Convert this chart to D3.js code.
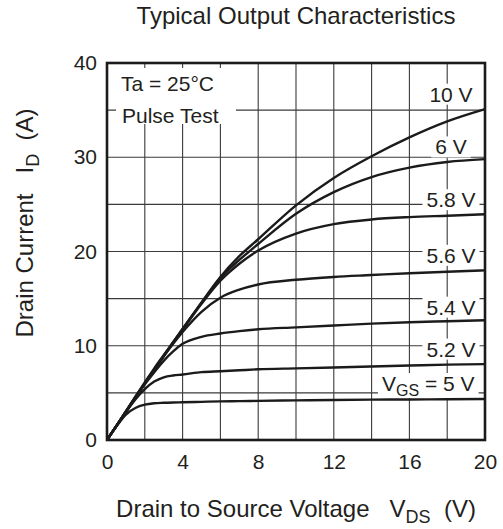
<!DOCTYPE html>
<html>
<head>
<meta charset="utf-8">
<script src="https://cdn.jsdelivr.net/npm/d3@7"></script>
<style>
  body { margin: 0; background: #fff; }
  text { font-family: "Liberation Sans", Arial, sans-serif; fill: #231f20; }
</style>
</head>
<body>
<svg id="chart" width="503" height="529"></svg>
<script>
// drain-source voltage samples (V)
const vds = [0, 0.5, 1, 1.5, 2, 2.5, 3, 3.5, 4, 5, 6, 7, 8, 10, 12, 14, 16, 18, 20];
// drain current (A) for each gate voltage
const id10V = [0, 1.5, 3.05, 4.6, 6.1, 7.6, 9.0, 10.4, 11.8, 14.6, 17.3, 19.5, 21.3, 24.9, 27.8, 30.1, 32.1, 33.8, 35.1];
const id6V = [0, 1.5, 3.0, 4.55, 6.05, 7.5, 8.95, 10.35, 11.75, 14.55, 17.2, 19.1, 20.8, 24.0, 26.3, 27.9, 28.9, 29.5, 29.8];
const id58V = [0, 1.5, 3.0, 4.5, 6.0, 7.45, 8.9, 10.3, 11.7, 14.45, 16.9, 18.7, 20.1, 21.9, 22.9, 23.4, 23.65, 23.8, 23.95];
const id56V = [0, 1.5, 3.0, 4.5, 6.0, 7.45, 8.85, 10.2, 11.45, 13.6, 15.1, 15.95, 16.5, 17.0, 17.3, 17.5, 17.7, 17.85, 18.0];
const id54V = [0, 1.5, 3.0, 4.45, 5.9, 7.2, 8.4, 9.4, 10.2, 10.95, 11.3, 11.55, 11.75, 11.95, 12.15, 12.35, 12.5, 12.6, 12.7];
const id52V = [0, 1.5, 2.95, 4.3, 5.4, 6.2, 6.65, 6.85, 6.95, 7.2, 7.3, 7.4, 7.5, 7.6, 7.7, 7.8, 7.9, 8.0, 8.05];
const id5V = [0, 1.45, 2.7, 3.4, 3.75, 3.9, 3.95, 3.98, 4.0, 4.05, 4.1, 4.12, 4.15, 4.2, 4.25, 4.28, 4.3, 4.33, 4.35];

const seriesValues = [id10V, id6V, id58V, id56V, id54V, id52V, id5V];
const seriesLabels = ['10 V', '6 V', '5.8 V', '5.6 V', '5.4 V', '5.2 V', 'VGS = 5 V'];
// where each curve label sits, in axis units
const labelVds = [18.2, 18.2, 18.2, 18.2, 18.2, 18.2, 17.0];
const labelId = [36.7, 31.1, 25.5, 19.6, 14.1, 9.65, 6.0];

const xTicks = [0, 4, 8, 12, 16, 20];
const yTicks = [0, 10, 20, 30, 40];

const svg = d3.select('#chart');
const plot = { left: 107, right: 485, top: 63, bottom: 440 };

const x = d3.scaleLinear().domain([0, 20]).range([plot.left, plot.right]);
const y = d3.scaleLinear().domain([0, 40]).range([plot.bottom, plot.top]);

// grid
const grid = svg.append('g').attr('stroke', '#3a3a3a').attr('stroke-width', 1.1);
grid.selectAll('line.v').data(d3.range(2, 20, 2)).join('line')
  .attr('x1', d => x(d)).attr('x2', d => x(d))
  .attr('y1', plot.top).attr('y2', plot.bottom);
grid.selectAll('line.h').data(d3.range(5, 40, 5)).join('line')
  .attr('y1', d => y(d)).attr('y2', d => y(d))
  .attr('x1', plot.left).attr('x2', plot.right);

// Ta / Pulse Test note
const note = svg.append('g');
note.append('rect').attr('x', 116).attr('y', 68).attr('width', 120).attr('height', 56).attr('fill', '#fff');
note.append('text').attr('x', 121).attr('y', 91).style('font-size', '21px').text('Ta = 25°C');
note.append('text').attr('x', 122).attr('y', 123).style('font-size', '21px').text('Pulse Test');

// curve labels with white boxes behind them
const labels = svg.append('g');
seriesLabels.forEach((lab, i) => {
  const g = labels.append('g');
  const t = g.append('text')
    .attr('x', x(labelVds[i]))
    .attr('y', y(labelId[i]))
    .attr('dy', '0.36em')
    .attr('text-anchor', 'middle')
    .style('font-size', '21px');
  if (lab.startsWith('VGS')) {
    t.append('tspan').text('V');
    t.append('tspan').attr('dy', 5).style('font-size', '16px').text('GS');
    t.append('tspan').attr('dy', -5).text(' = 5 V');
  } else {
    t.text(lab);
  }
  const bb = t.node().getBBox();
  g.insert('rect', 'text')
    .attr('x', bb.x - 4).attr('y', bb.y + 1)
    .attr('width', bb.width + 8).attr('height', bb.height - 2)
    .attr('fill', '#fff');
});

// curves
const line = d3.line()
  .x((d, i) => x(vds[i]))
  .y(d => y(d))
  .curve(d3.curveMonotoneX);
svg.append('g').selectAll('path').data(seriesValues).join('path')
  .attr('d', d => line(d))
  .attr('fill', 'none')
  .attr('stroke', '#1c1a1b')
  .attr('stroke-width', 2.4);

// frame
svg.append('rect')
  .attr('x', plot.left).attr('y', plot.top)
  .attr('width', plot.right - plot.left).attr('height', plot.bottom - plot.top)
  .attr('fill', 'none').attr('stroke', '#1c1a1b').attr('stroke-width', 2.6);

// axes (labels only)
const xAxis = svg.append('g')
  .attr('transform', `translate(0,${plot.bottom})`)
  .call(d3.axisBottom(x).tickValues(xTicks).tickSize(0).tickPadding(14));
const yAxis = svg.append('g')
  .attr('transform', `translate(${plot.left},0)`)
  .call(d3.axisLeft(y).tickValues(yTicks).tickSize(0).tickPadding(10));
[xAxis, yAxis].forEach(a => {
  a.select('.domain').remove();
  a.selectAll('text').attr('fill', '#231f20').style('font-size', '21px')
    .style('font-family', '"Liberation Sans", Arial, sans-serif');
});

// titles
svg.append('text')
  .attr('x', 296).attr('y', 24)
  .attr('text-anchor', 'middle')
  .style('font-size', '24px')
  .text('Typical Output Characteristics');

const xt = svg.append('text')
  .attr('x', 296).attr('y', 517)
  .attr('text-anchor', 'middle')
  .style('font-size', '24px')
  .attr('xml:space', 'preserve');
xt.append('tspan').text('Drain to Source Voltage   V');
xt.append('tspan').attr('dy', 6).style('font-size', '18px').text('DS');
xt.append('tspan').attr('dy', -6).text('  (V)');

const yt = svg.append('text')
  .attr('transform', 'translate(33,223) rotate(-90)')
  .attr('text-anchor', 'middle')
  .style('font-size', '24px')
  .attr('xml:space', 'preserve');
yt.append('tspan').text('Drain Current   I');
yt.append('tspan').attr('dy', 6).style('font-size', '18px').text('D');
yt.append('tspan').attr('dy', -6).text('  (A)');
</script>
</body>
</html>
